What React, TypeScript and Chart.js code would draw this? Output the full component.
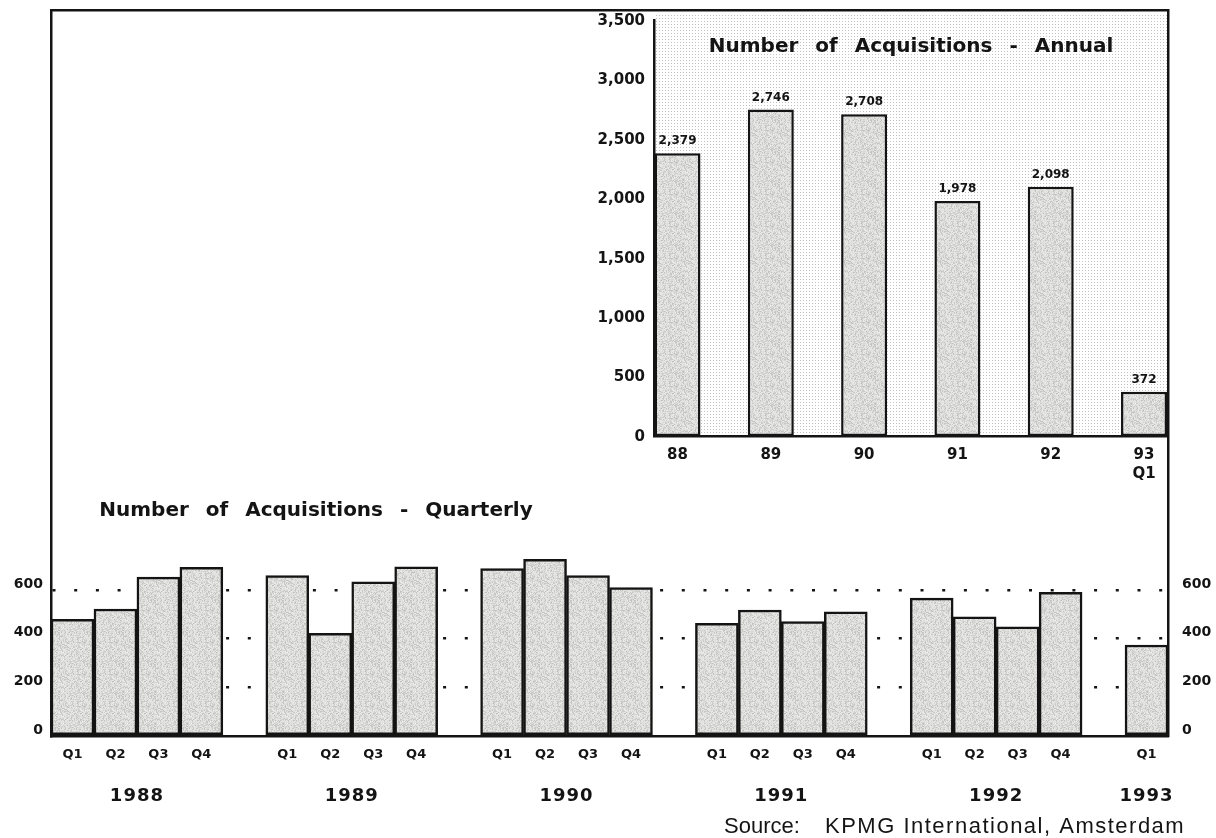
import React, { useEffect, useRef } from 'react';
import { Chart, registerables } from 'chart.js';

Chart.register(...registerables);

// ---------- data ----------
const years = ['1988', '1989', '1990', '1991', '1992', '1993'];
const quarterNames = ['Q1', 'Q2', 'Q3', 'Q4'];
const quarterly1988 = [480, 522, 653, 693];
const quarterly1989 = [660, 422, 634, 696];
const quarterly1990 = [688, 726, 660, 610];
const quarterly1991 = [463, 518, 470, 511];
const quarterly1992 = [567, 490, 449, 591];
const quarterly1993 = [374];
const quarterlyByYear = [quarterly1988, quarterly1989, quarterly1990, quarterly1991, quarterly1992, quarterly1993];
const quarterlyTicks = [0, 200, 400, 600];

const annualLabels: (string | string[])[] = ['88', '89', '90', '91', '92', ['93', 'Q1']];
const annualValues = [2379, 2746, 2708, 1978, 2098, 372];
const annualTicks = [0, 500, 1000, 1500, 2000, 2500, 3000, 3500];

const quarterlyTitle = 'Number of Acquisitions - Quarterly';
const annualTitle = 'Number of Acquisitions - Annual';
const sourceLabel = 'Source:';
const sourceText = 'KPMG International, Amsterdam';

// ---------- derived slot layout (one empty slot between years) ----------
const slotLabels: string[] = [];
const slotValues: (number | null)[] = [];
const yearSpans: { year: string; first: number; last: number }[] = [];
years.forEach((yr, i) => {
  if (i > 0) {
    slotLabels.push('');
    slotValues.push(null);
  }
  const first = slotLabels.length;
  quarterlyByYear[i].forEach((v, q) => {
    slotLabels.push(quarterNames[q]);
    slotValues.push(v);
  });
  yearSpans.push({ year: yr, first, last: slotLabels.length - 1 });
});

const BOLD = "'DejaVu Sans', sans-serif";
const INK = '#141414';
const LINE_W = 2.5;

// grainy light-grey fill texture (deterministic hash, purely decorative)
function makeStipple(ctx: CanvasRenderingContext2D) {
  const n = 32;
  const c = document.createElement('canvas');
  c.width = n;
  c.height = n;
  const g = c.getContext('2d')!;
  const img = g.createImageData(n, n);
  for (let i = 0; i < n * n; i++) {
    let h = Math.imul(i + 1, 2654435761) >>> 0;
    h ^= h >>> 13;
    h = Math.imul(h, 0x5bd1e995) >>> 0;
    h ^= h >>> 15;
    const t = (h & 255) / 255;
    const v = Math.round(232 - t * t * 42);
    img.data[i * 4] = v;
    img.data[i * 4 + 1] = v;
    img.data[i * 4 + 2] = v - 2;
    img.data[i * 4 + 3] = 255;
  }
  g.putImageData(img, 0, 0);
  return ctx.createPattern(c, 'repeat') || '#d9d9d7';
}

function makeDots(ctx: CanvasRenderingContext2D) {
  const c = document.createElement('canvas');
  c.width = 3;
  c.height = 3;
  const g = c.getContext('2d')!;
  g.fillStyle = 'rgba(120,120,120,0.45)';
  g.fillRect(0, 0, 1, 1);
  return ctx.createPattern(c, 'repeat') || '#f3f3f3';
}

const noPad = (s: any) => {
  s.paddingTop = 0;
  s.paddingBottom = 0;
};

export default function App() {
  const qRef = useRef<HTMLCanvasElement>(null);
  const aRef = useRef<HTMLCanvasElement>(null);

  useEffect(() => {
    const qCanvas = qRef.current!;
    const aCanvas = aRef.current!;
    const qCtx = qCanvas.getContext('2d')!;
    const aCtx = aCanvas.getContext('2d')!;
    const qStipple = makeStipple(qCtx);
    const aStipple = makeStipple(aCtx);
    const dots = makeDots(aCtx);

    const qDecor = {
      id: 'qDecor',
      afterDraw(chart: any) {
        const { ctx, chartArea, scales } = chart;
        const x = scales.x;
        ctx.save();
        ctx.fillStyle = INK;
        ctx.font = `bold 20px ${BOLD}`;
        ctx.wordSpacing = '10px';
        ctx.textAlign = 'center';
        ctx.textBaseline = 'alphabetic';
        ctx.fillText(quarterlyTitle, chartArea.left + 265, chartArea.bottom - 220);
        ctx.wordSpacing = '0px';
        ctx.font = `bold 18px ${BOLD}`;
        ctx.letterSpacing = '1px';
        ctx.textBaseline = 'middle';
        yearSpans.forEach((s) => {
          const cx = (x.getPixelForValue(s.first) + x.getPixelForValue(s.last)) / 2;
          ctx.fillText(s.year, cx, chartArea.bottom + 60);
        });
        ctx.letterSpacing = '0px';
        ctx.font = "22px 'Liberation Sans', Arial, sans-serif";
        ctx.textAlign = 'left';
        ctx.textBaseline = 'alphabetic';
        ctx.fillText(sourceLabel, chartArea.right - 444, chartArea.bottom + 97);
        ctx.letterSpacing = '1.5px';
        ctx.fillText(sourceText, chartArea.right - 343, chartArea.bottom + 97);
        ctx.restore();
      },
    };

    const aDecor = {
      id: 'aDecor',
      beforeDraw(chart: any) {
        const { ctx, chartArea } = chart;
        ctx.save();
        ctx.fillStyle = dots;
        ctx.fillRect(chartArea.left, chartArea.top - 7, chartArea.right - chartArea.left, chartArea.bottom - chartArea.top + 7);
        ctx.restore();
      },
      afterDatasetsDraw(chart: any) {
        const { ctx } = chart;
        const meta = chart.getDatasetMeta(0);
        ctx.save();
        ctx.fillStyle = INK;
        ctx.font = `bold 12px ${BOLD}`;
        ctx.textAlign = 'center';
        ctx.textBaseline = 'middle';
        meta.data.forEach((bar: any, i: number) => {
          ctx.fillText(annualValues[i].toLocaleString('en-US'), bar.x, bar.y - 12);
        });
        ctx.restore();
      },
      afterDraw(chart: any) {
        const { ctx, chartArea } = chart;
        ctx.save();
        ctx.fillStyle = INK;
        ctx.font = `bold 20px ${BOLD}`;
        ctx.wordSpacing = '10px';
        ctx.textAlign = 'center';
        ctx.textBaseline = 'alphabetic';
        ctx.fillText(annualTitle, (chartArea.left + chartArea.right) / 2, chartArea.top + 32);
        ctx.restore();
      },
    };

    const qTickFont = { family: BOLD, size: 14, weight: 'bold' as const };

    const qChart = new Chart(qCanvas, {
      type: 'bar',
      data: {
        labels: slotLabels,
        datasets: [
          {
            data: slotValues,
            backgroundColor: qStipple as any,
            borderColor: INK,
            borderWidth: LINE_W,
            borderSkipped: false,
            barPercentage: 1,
            categoryPercentage: 1,
          },
        ],
      },
      options: {
        responsive: false,
        animation: false,
        layout: { padding: 0 },
        plugins: { legend: { display: false }, tooltip: { enabled: false }, title: { display: false } },
        scales: {
          x: {
            position: 'bottom',
            grid: { display: false, drawTicks: false },
            border: { color: INK, width: LINE_W },
            ticks: {
              autoSkip: false,
              maxRotation: 0,
              padding: 11,
              color: INK,
              font: { family: BOLD, size: 13, weight: 'bold' },
            },
            afterFit: (s: any) => {
              s.height = 102;
            },
          },
          xTop: {
            type: 'category',
            position: 'top',
            grid: { display: false, drawTicks: false },
            ticks: { display: false },
            border: { color: INK, width: LINE_W },
            afterFit: (s: any) => {
              s.height = 10;
            },
          },
          y: {
            position: 'left',
            min: 0,
            max: 2985,
            afterBuildTicks: (s: any) => {
              s.ticks = quarterlyTicks.map((v) => ({ value: v }));
            },
            grid: {
              color: (c: any) => (c.tick && c.tick.value === 0 ? 'rgba(0,0,0,0)' : INK),
              lineWidth: LINE_W,
              drawTicks: false,
            },
            border: { color: INK, width: LINE_W, dash: [3, 18.7] },
            ticks: { padding: 8, labelOffset: -6, color: INK, font: qTickFont },
            afterFit: (s: any) => {
              s.width = 51;
              noPad(s);
            },
          },
          yRight: {
            type: 'linear',
            position: 'right',
            min: 0,
            max: 2985,
            afterBuildTicks: (s: any) => {
              s.ticks = quarterlyTicks.map((v) => ({ value: v }));
            },
            grid: { drawOnChartArea: false, drawTicks: false },
            border: { color: INK, width: LINE_W },
            ticks: { padding: 14, labelOffset: -6, color: INK, font: qTickFont },
            afterFit: (s: any) => {
              s.width = 48;
              noPad(s);
            },
          },
        },
      } as any,
      plugins: [qDecor],
    });

    const aChart = new Chart(aCanvas, {
      type: 'bar',
      data: {
        datasets: [
          {
            data: annualValues.map((v, i) => ({ x: i, y: v })),
            backgroundColor: aStipple as any,
            borderColor: INK,
            borderWidth: LINE_W,
            borderSkipped: false,
            barPercentage: 0.493,
            categoryPercentage: 1,
          },
        ],
      },
      options: {
        responsive: false,
        animation: false,
        layout: { padding: { top: 20, right: 32, left: 0, bottom: 0 } },
        plugins: { legend: { display: false }, tooltip: { enabled: false }, title: { display: false } },
        scales: {
          x: {
            type: 'linear',
            offset: false,
            min: -0.252,
            max: 5.257,
            afterBuildTicks: (s: any) => {
              s.ticks = annualLabels.map((_, i) => ({ value: i }));
            },
            ticks: {
              callback: (v: any) => annualLabels[v],
              autoSkip: false,
              maxRotation: 0,
              padding: 9,
              color: INK,
              font: { family: BOLD, size: 15, weight: 'bold', lineHeight: 1.3 },
            },
            grid: { display: false, drawTicks: false },
            border: { color: INK, width: LINE_W },
            afterFit: (s: any) => {
              s.height = 54;
              s.paddingLeft = 0;
              s.paddingRight = 0;
            },
          },
          y: {
            min: 0,
            max: 3500,
            afterBuildTicks: (s: any) => {
              s.ticks = annualTicks.map((v) => ({ value: v }));
            },
            ticks: {
              callback: (v: any) => Number(v).toLocaleString('en-US'),
              padding: 9,
              labelOffset: 1,
              color: INK,
              font: { family: BOLD, size: 15, weight: 'bold' },
            },
            grid: { display: false, drawTicks: false },
            border: { color: INK, width: LINE_W },
            afterFit: (s: any) => {
              s.width = 94;
              noPad(s);
            },
          },
        },
      } as any,
      plugins: [aDecor],
    });

    return () => {
      qChart.destroy();
      aChart.destroy();
    };
  }, []);

  return (
    <div style={{ position: 'fixed', left: 0, top: 0, width: 1216, height: 838, overflow: 'hidden', background: '#fff' }}>
      <canvas ref={qRef} width={1216} height={838} style={{ position: 'absolute', left: 0, top: 0 }} />
      <canvas ref={aRef} width={640} height={490} style={{ position: 'absolute', left: 560, top: 0 }} />
    </div>
  );
}
